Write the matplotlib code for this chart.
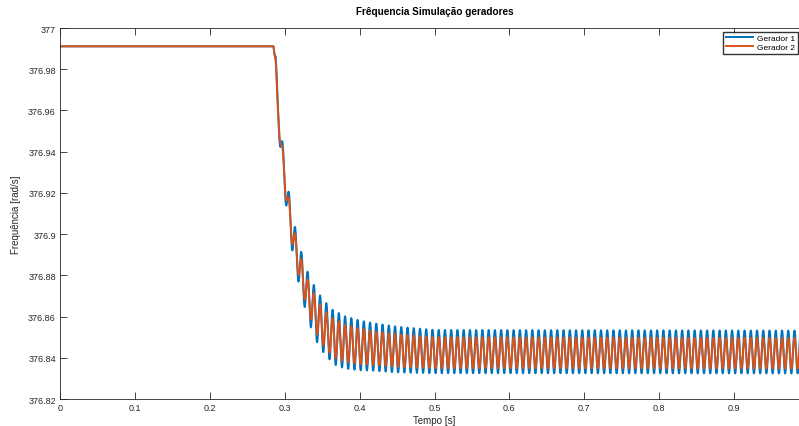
import numpy as np
import matplotlib
matplotlib.use("Agg")
import matplotlib.pyplot as plt

plt.rcParams['font.family'] = ['Liberation Sans', 'DejaVu Sans']

# ---- data ----
freq_osc = 120.0          # oscillation frequency [Hz]
t_peak0 = 0.2973          # time of a reference oscillation peak [s]

# mean-level knots
t_mean = [0.0, 0.2850, 0.2880, 0.2905, 0.2950, 0.3000, 0.3050, 0.3100, 0.3150,
          0.3200, 0.3300, 0.3400, 0.3500, 0.3650, 0.3800, 0.4000, 0.4500, 0.5000, 1.0]
mean_g1 = [376.9911, 376.9911, 376.984, 376.963, 376.944, 376.927, 376.913, 376.901,
           376.892, 376.884, 376.871, 376.862, 376.856, 376.850, 376.8475, 376.846,
           376.844, 376.843, 376.8428]
mean_g2 = [376.9911, 376.9911, 376.983, 376.962, 376.944, 376.927, 376.913, 376.901,
           376.892, 376.884, 376.871, 376.862, 376.8555, 376.8495, 376.847, 376.8455,
           376.8435, 376.8425, 376.8422]

# oscillation amplitude knots
t_amp = [0.0, 0.2850, 0.2880, 0.2920, 0.3000, 0.3200, 0.3400, 0.3700, 0.4200, 0.5000, 1.0]
amp_g1 = [0.0, 0.0, 0.003, 0.007, 0.008, 0.010, 0.0125, 0.013, 0.0115, 0.0105, 0.0104]
amp_g2 = [0.0, 0.0, 0.001, 0.004, 0.005, 0.0065, 0.0085, 0.0093, 0.0082, 0.0075, 0.0074]

series_names = ['Gerador 1', 'Gerador 2']
x_ticks = [0, 0.1, 0.2, 0.3, 0.4, 0.5, 0.6, 0.7, 0.8, 0.9]
x_ticklabels = ['0', '0.1', '0.2', '0.3', '0.4', '0.5', '0.6', '0.7', '0.8', '0.9']
y_ticks = [376.82, 376.84, 376.86, 376.88, 376.90, 376.92, 376.94, 376.96, 376.98, 377.0]
y_ticklabels = ['376.82', '376.84', '376.86', '376.88', '376.9', '376.92', '376.94',
                '376.96', '376.98', '377']

# ---- build signals ----
t = np.arange(0.0, 1.0 + 1e-9, 1e-4)
carrier = np.cos(2 * np.pi * freq_osc * (t - t_peak0))
g1 = np.interp(t, t_mean, mean_g1) + np.interp(t, t_amp, amp_g1) * carrier
g2 = np.interp(t, t_mean, mean_g2) + np.interp(t, t_amp, amp_g2) * carrier

# ---- figure ----
W, H = 799, 427
fig = plt.figure(figsize=(W / 100, H / 100), dpi=100)
ax = fig.add_axes([60 / W, 27 / H, 749 / W, 371 / H])

axcol = '#262626'
ax.plot(t, g1, color='#0072BD', lw=1.4, label=series_names[0])
ax.plot(t, g2, color='#D95319', lw=1.4, label=series_names[1])

ax.set_xlim(0, 1)
ax.set_ylim(376.82, 377.0)
ax.set_xticks(x_ticks)
ax.set_xticklabels(x_ticklabels)
ax.set_yticks(y_ticks)
ax.set_yticklabels(y_ticklabels)
ax.tick_params(direction='in', length=5, width=0.6, colors=axcol, labelcolor=axcol,
               labelsize=6.5, top=True, right=True, pad=3)
for s in ax.spines.values():
    s.set_color(axcol)
    s.set_linewidth(0.6)

ax.set_title('Frêquencia Simulação geradores', fontsize=7.2, fontweight='bold',
             color='black', pad=10)
ax.set_xlabel('Tempo [s]', fontsize=7, color=axcol, labelpad=2)
ax.set_ylabel('Frequência [rad/s]', fontsize=7, color=axcol, labelpad=5)

leg = ax.legend(loc='upper right', bbox_to_anchor=(798 / W, 1 - 33 / H),
                bbox_transform=fig.transFigure, fontsize=6, frameon=True,
                fancybox=False, handlelength=3.3, borderpad=0.3, labelspacing=0.1,
                handletextpad=0.5, borderaxespad=0)
leg.get_frame().set_edgecolor('black')
leg.get_frame().set_linewidth(1.0)

fig.savefig('out.png', dpi=100)
